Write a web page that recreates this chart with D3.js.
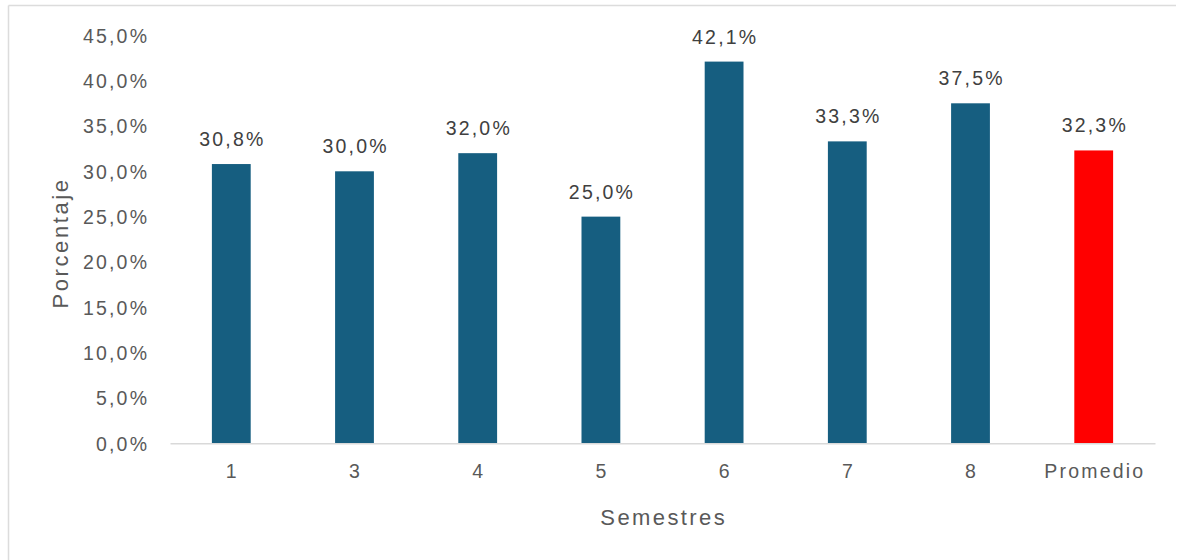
<!DOCTYPE html>
<html><head><meta charset="utf-8">
<script src="https://cdn.jsdelivr.net/npm/d3@7"></script>
<style>body{margin:0;background:#fff}svg{display:block}text{font-family:"Liberation Sans",Arial,sans-serif}</style>
</head><body>
<svg id="c" width="1179" height="560"></svg>
<script>
const categories = ["1","3","4","5","6","7","8","Promedio"];
const values = [30.8, 30.0, 32.0, 25.0, 42.1, 33.3, 37.5, 32.3];
const yTicks = [0,5,10,15,20,25,30,35,40,45];
const colors = ["#165e80","#165e80","#165e80","#165e80","#165e80","#165e80","#165e80","#ff0000"];

const svg = d3.select("#c");
const m = {left:170, right:1155, top:35.3, bottom:443.3};
const fmt = v => d3.format(".1f")(v).replace(".", ",") + "%";
const LS = 2.2;

svg.append("line").attr("x1",8.5).attr("x2",1176).attr("y1",5.5).attr("y2",5.5).attr("stroke","#dcdcdc").attr("stroke-width",1.5);
svg.append("line").attr("x1",8.5).attr("x2",8.5).attr("y1",5.5).attr("y2",560).attr("stroke","#dcdcdc").attr("stroke-width",1.5);

const x = d3.scaleBand().domain(categories).range([m.left,m.right]).paddingInner(0.685).paddingOuter(0.34);
const y = d3.scaleLinear().domain([0,45]).range([m.bottom,m.top]);

const yAxis = svg.append("g").attr("transform",`translate(${m.left},0)`)
  .call(d3.axisLeft(y).tickValues(yTicks).tickSize(0).tickPadding(23 - LS).tickFormat(fmt));
yAxis.select(".domain").remove();
yAxis.selectAll("text").attr("font-size",19.5).attr("letter-spacing",LS).attr("fill","#595959").attr("dy","0.36em");

svg.selectAll("rect.bar").data(values).join("rect").attr("class","bar")
  .attr("x",(d,i)=>x(categories[i])).attr("width",x.bandwidth())
  .attr("y",d=>y(d)).attr("height",d=>y(0)-y(d))
  .attr("fill",(d,i)=>colors[i]);

const xAxis = svg.append("g").attr("transform",`translate(0,${m.bottom})`)
  .call(d3.axisBottom(x).tickSize(0).tickPadding(21));
xAxis.select(".domain").attr("stroke","#d9d9d9").attr("stroke-width",1.5);
xAxis.selectAll("text").attr("font-size",19.5).attr("letter-spacing",LS).attr("dx",LS/2).attr("fill","#595959");

svg.selectAll("text.lab").data(values).join("text").attr("class","lab")
  .attr("x",(d,i)=>x(categories[i])+x.bandwidth()/2 + LS/2).attr("y",d=>y(d)-18)
  .attr("text-anchor","middle").attr("font-size",19.5).attr("letter-spacing",LS).attr("fill","#404040").text(fmt);

svg.append("text").attr("x",(m.left+m.right)/2 + 1.2).attr("y",525).attr("text-anchor","middle")
  .attr("font-size",22).attr("letter-spacing",2.4).attr("fill","#595959").text("Semestres");
svg.append("text").attr("transform",`translate(68,${243}) rotate(-90)`).attr("text-anchor","middle")
  .attr("font-size",22).attr("letter-spacing",2.6).attr("fill","#595959").text("Porcentaje");
</script>
</body></html>
